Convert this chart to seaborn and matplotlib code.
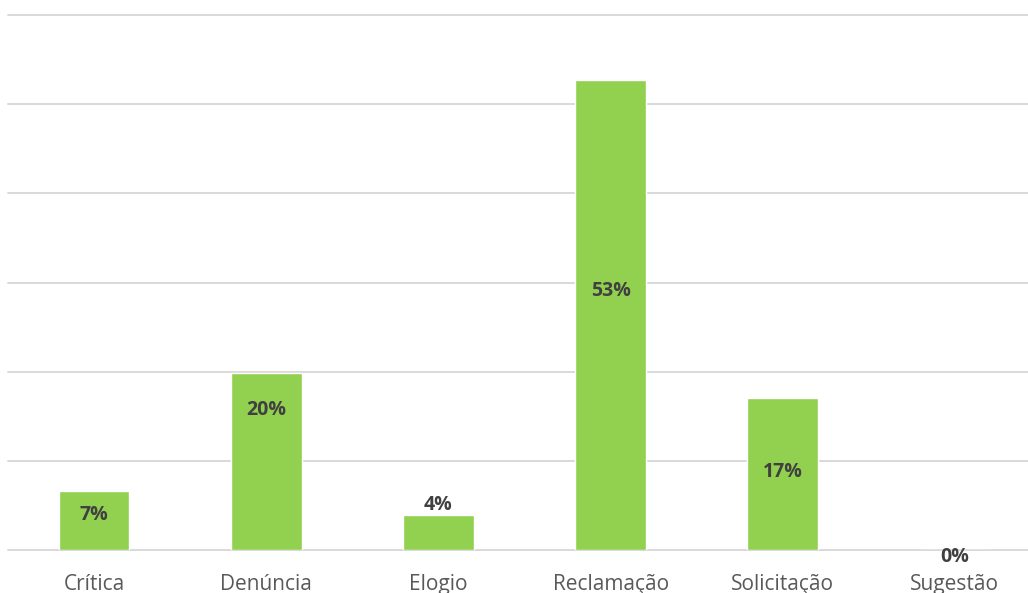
import matplotlib
matplotlib.use("Agg")
import matplotlib.pyplot as plt
import seaborn as sns
import pandas as pd

categories = ["Crítica", "Denúncia", "Elogio", "Reclamação", "Solicitação", "Sugestão"]
values = [6.6, 19.8, 3.9, 52.7, 17.1, 0.0]
labels = ["7%", "20%", "4%", "53%", "17%", "0%"]
label_y = [3.9, 15.7, 5.1, 29.0, 8.7, -0.8]

sns.set_theme(style="white")
plt.rcParams['font.family'] = ['Open Sans', 'DejaVu Sans']

fig = plt.figure(figsize=(10.28, 5.93), dpi=100)
W, H = 1028, 593
ax = fig.add_axes([8 / W, (593 - 550) / H, 1033 / W, (550 - 15) / H])

df = pd.DataFrame({"cat": categories, "val": values})
sns.barplot(data=df, x="cat", y="val", color="#92D050", width=0.41,
            saturation=1, ax=ax, zorder=3)

ax.set_ylim(0, 60)
ax.set_xlim(-0.5, 5.5)
ax.set_yticks(range(0, 61, 10))
ax.yaxis.grid(True, color="#D9D9D9", linewidth=1.4, zorder=0)
for gl in ax.get_ygridlines():
    gl.set_clip_on(False)
ax.set_axisbelow(True)
ax.tick_params(axis="y", left=False, labelleft=False)
ax.tick_params(axis="x", bottom=False, labelsize=15, labelcolor="#595959", pad=11)
for s in ax.spines.values():
    s.set_visible(False)
ax.set_xlabel("")
ax.set_ylabel("")

for i, (lab, ly) in enumerate(zip(labels, label_y)):
    ax.text(i, ly, lab, ha="center", va="center", fontsize=14,
            fontweight="bold", color="#404040", zorder=5, clip_on=False)

fig.savefig("out.png", dpi=100)
